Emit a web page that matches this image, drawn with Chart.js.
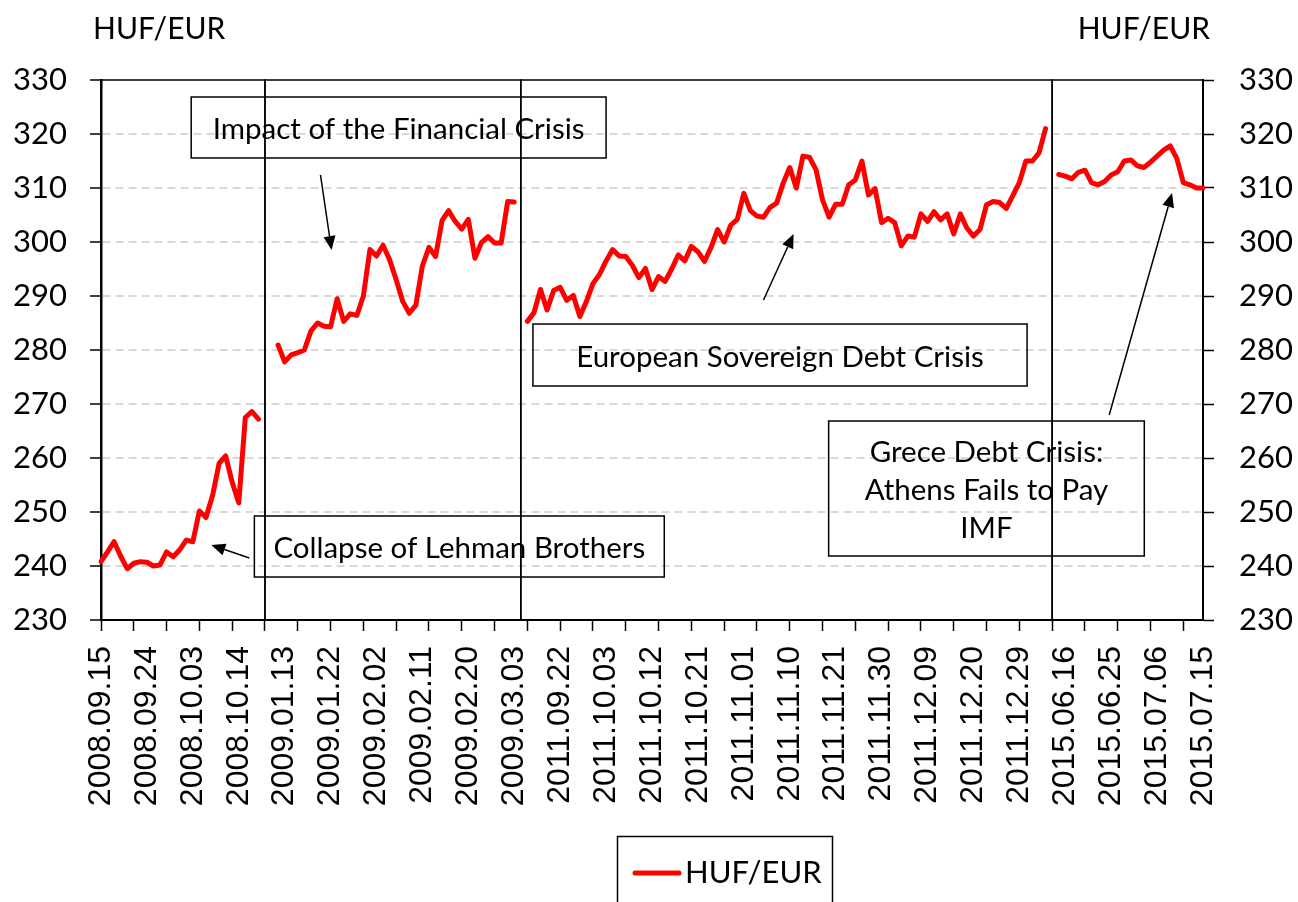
<!DOCTYPE html>
<html>
<head>
<meta charset="utf-8">
<script src="https://cdn.jsdelivr.net/npm/chart.js@4.4.0/dist/chart.umd.min.js"></script>
<style>
  body { margin: 0; background: #fff; }
  #holder { width: 1298px; height: 902px; }
</style>
</head>
<body>
<div id="holder"><canvas id="myChart"></canvas></div>
<script>
// tick labels, one every 7th trading day
var tickLabels = ['2008.09.15', '2008.09.24', '2008.10.03', '2008.10.14', '2009.01.13',
  '2009.01.22', '2009.02.02', '2009.02.11', '2009.02.20', '2009.03.03', '2011.09.22',
  '2011.10.03', '2011.10.12', '2011.10.21', '2011.11.01', '2011.11.10', '2011.11.21',
  '2011.11.30', '2011.12.09', '2011.12.20', '2011.12.29', '2015.06.16', '2015.06.25',
  '2015.07.06', '2015.07.15'];

// HUF/EUR daily rates, one array per crisis window
var rate2008 = [240.8, 242.6, 244.5, 241.8, 239.5, 240.5, 240.8, 240.7, 240.0, 240.2,
  242.6, 241.7, 243.0, 244.8, 244.5, 250.2, 249.0, 253.0, 259.0, 260.4,
  255.5, 251.7, 267.5, 268.6, 267.2];

var rate2009 = [280.9, 277.8, 279.1, 279.5, 280.0, 283.5, 285.0, 284.4, 284.3, 289.5,
  285.3, 286.7, 286.4, 290.0, 298.6, 297.4, 299.4, 296.7, 293.0, 289.0,
  286.8, 288.3, 295.6, 299.0, 297.3, 304.0, 305.8, 303.8, 302.4, 304.2,
  297.0, 299.9, 301.0, 299.8, 299.8, 307.5, 307.4];

var rate2011 = [285.3, 286.9, 291.2, 287.4, 291.0, 291.6, 289.2, 290.1, 286.2, 289.0,
  292.3, 294.0, 296.5, 298.6, 297.4, 297.3, 295.7, 293.4, 295.1, 291.2,
  293.6, 292.7, 295.0, 297.6, 296.5, 299.2, 298.2, 296.4, 299.0, 302.3,
  300.0, 303.1, 304.2, 309.0, 305.8, 304.8, 304.6, 306.4, 307.2, 310.9,
  313.8, 310.0, 315.9, 315.7, 313.4, 307.8, 304.6, 307.0, 307.0, 310.6,
  311.5, 315.0, 308.7, 309.9, 303.6, 304.4, 303.6, 299.3, 301.1, 300.9,
  305.2, 303.8, 305.6, 304.1, 305.2, 301.5, 305.2, 302.6, 301.1, 302.3,
  306.9, 307.5, 307.3, 306.2, 308.6, 311.0, 315.0, 315.0, 316.5, 321.0];

var rate2015 = [312.5, 312.2, 311.7, 312.9, 313.3, 311.0, 310.6, 311.2, 312.4, 313.0,
  315.0, 315.2, 314.1, 313.8, 314.8, 315.9, 317.0, 317.8, 315.5, 311.0,
  310.6, 310.0, 310.0];

// empty cells between the windows
var gap2008 = [null, null];
var gap2009 = [null];
var gap2011 = [null];

// window frames, as category index ranges
var periods = [[0, 25], [25, 64], [64, 145], [145, 168]];

// text boxes: index range, value range, lines
var notes = [
  { x0: 13.75, x1: 77.0, y0: 326.85, y1: 315.56, lines: ['Impact of the Financial Crisis'] },
  { x0: 23.38, x1: 85.87, y0: 249.26, y1: 237.96, lines: ['Collapse of Lehman Brothers'] },
  { x0: 65.85, x1: 141.18, y0: 284.81, y1: 273.33, lines: ['European Sovereign Debt Crisis'] },
  { x0: 110.93, x1: 159.05, y0: 266.85, y1: 241.85, lines: ['Grece Debt Crisis:', 'Athens Fails to Pay', 'IMF'] }
];

// arrows: tail (index, value) -> head (index, value)
var arrows = [
  [33.46, 312.41, 35.15, 298.5],
  [22.61, 241.48, 16.81, 243.89],
  [101.0, 289.26, 105.58, 301.48],
  [153.7, 267.96, 163.28, 309.07]
];

var rates = rate2008.concat(gap2008, rate2009, gap2009, rate2011, gap2011, rate2015);
var labels = [];
for (var i = 0; i < rates.length; i++) {
  labels.push(i % 7 == 0 ? tickLabels[i / 7] : '');
}

var noteFont = '29.5px Lato';

function drawArrow(ctx, x0, y0, x1, y1) {
  var ang = Math.atan2(y1 - y0, x1 - x0);
  var len = 14, half = 6;
  var c = Math.cos(ang), s = Math.sin(ang);
  ctx.beginPath();
  ctx.moveTo(x0, y0);
  ctx.lineTo(x1 - len * c, y1 - len * s);
  ctx.stroke();
  ctx.beginPath();
  ctx.moveTo(x1, y1);
  ctx.lineTo(x1 - len * c + half * s, y1 - len * s - half * c);
  ctx.lineTo(x1 - len * c - half * s, y1 - len * s + half * c);
  ctx.closePath();
  ctx.fill();
}

var decorations = {
  id: 'decorations',
  beforeDatasetsDraw: function(chart) {
    var ctx = chart.ctx, xs = chart.scales.x, ys = chart.scales.y;
    ctx.save();
    ctx.strokeStyle = '#000';
    ctx.lineWidth = 1.5;
    periods.forEach(function(p) {
      var a = xs.getPixelForValue(p[0]), b = xs.getPixelForValue(p[1]);
      var t = ys.getPixelForValue(330), btm = ys.getPixelForValue(230);
      ctx.strokeRect(a, t, b - a, btm - t);
    });
    ctx.restore();
  },
  afterDraw: function(chart) {
    var ctx = chart.ctx, xs = chart.scales.x, ys = chart.scales.y;
    var area = chart.chartArea;
    ctx.save();
    ctx.strokeStyle = '#000';
    ctx.fillStyle = '#000';
    ctx.lineWidth = 1.5;

    // text boxes
    ctx.font = noteFont;
    ctx.textAlign = 'center';
    ctx.textBaseline = 'middle';
    notes.forEach(function(n) {
      var l = xs.getPixelForValue(n.x0), r = xs.getPixelForValue(n.x1);
      var t = ys.getPixelForValue(n.y0), b = ys.getPixelForValue(n.y1);
      ctx.strokeRect(l, t, r - l, b - t);
      var cy = (t + b) / 2 + 2 - (n.lines.length - 1) * 19;
      n.lines.forEach(function(line, k) {
        ctx.fillText(line, (l + r) / 2, cy + k * 38);
      });
    });

    // arrows
    ctx.lineWidth = 1.5;
    arrows.forEach(function(a) {
      drawArrow(ctx, xs.getPixelForValue(a[0]), ys.getPixelForValue(a[1]),
        xs.getPixelForValue(a[2]), ys.getPixelForValue(a[3]));
    });

    // unit labels over both axes
    ctx.font = '30px Lato';
    ctx.textAlign = 'left';
    ctx.fillText('HUF/EUR', area.left - 8, 29);
    ctx.textAlign = 'right';
    ctx.fillText('HUF/EUR', area.right + 7, 29);

    // legend
    ctx.lineWidth = 1.5;
    ctx.strokeRect(617.5, 836.5, 215, 80);
    ctx.strokeStyle = '#FF0000';
    ctx.lineWidth = 5;
    ctx.lineCap = 'round';
    ctx.beginPath();
    ctx.moveTo(635, 873);
    ctx.lineTo(679, 873);
    ctx.stroke();
    ctx.font = '31px Lato';
    ctx.textAlign = 'left';
    ctx.fillText('HUF/EUR', 685, 873);
    ctx.restore();
  }
};

function gridColor(ctx) {
  var v = ctx.tick ? ctx.tick.value : null;
  return (v == 230 || v == 330) ? 'rgba(0,0,0,0)' : '#d9d9d9';
}

var ctx = document.getElementById('myChart').getContext('2d');
var chart = new Chart(ctx, {
  type: 'line',
  data: {
    labels: labels,
    datasets: [{
      label: 'HUF/EUR',
      data: rates,
      borderColor: '#FF0000',
      backgroundColor: '#FF0000',
      borderWidth: 5,
      pointRadius: 0,
      tension: 0,
      spanGaps: false,
      borderJoinStyle: 'round',
      borderCapStyle: 'round'
    }]
  },
  options: {
    responsive: true,
    maintainAspectRatio: false,
    animation: false,
    layout: { padding: { top: 80, left: 0, right: 0, bottom: 0 } },
    plugins: {
      legend: { display: false },
      tooltip: { enabled: false }
    },
    scales: {
      x: {
        ticks: {
          autoSkip: false,
          minRotation: 90,
          maxRotation: 90,
          padding: 15,
          color: '#000',
          font: { family: 'Liberation Sans', size: 32 }
        },
        grid: {
          drawOnChartArea: false,
          tickLength: 11,
          tickWidth: 1.5,
          tickColor: function(c) { return c.index % 5 == 0 ? '#000' : 'rgba(0,0,0,0)'; }
        },
        border: { color: '#000', width: 2 },
        afterFit: function(scale) {
          scale.height = 282;
          scale.paddingLeft = 0;
          scale.paddingRight = 0;
        }
      },
      y: {
        position: 'left',
        min: 230,
        max: 330,
        ticks: {
          stepSize: 10,
          padding: 23,
          color: '#000',
          font: { family: 'Lato', size: 31 }
        },
        grid: {
          color: gridColor,
          lineWidth: 2,
          tickLength: 11,
          tickWidth: 1.5,
          tickColor: '#000'
        },
        border: { color: '#000', width: 2.5, dash: [8, 5] },
        afterFit: function(scale) {
          scale.width = 101;
          scale.paddingTop = 0;
          scale.paddingBottom = 0;
        }
      },
      y2: {
        position: 'right',
        min: 230,
        max: 330,
        ticks: {
          stepSize: 10,
          padding: 25,
          color: '#000',
          font: { family: 'Lato', size: 31 }
        },
        grid: {
          drawOnChartArea: false,
          tickLength: 11,
          tickWidth: 1.5,
          tickColor: '#000'
        },
        border: { color: '#000', width: 2 },
        afterFit: function(scale) {
          scale.width = 95;
          scale.paddingTop = 0;
          scale.paddingBottom = 0;
        }
      }
    }
  },
  plugins: [decorations]
});
</script>
</body>
</html>
